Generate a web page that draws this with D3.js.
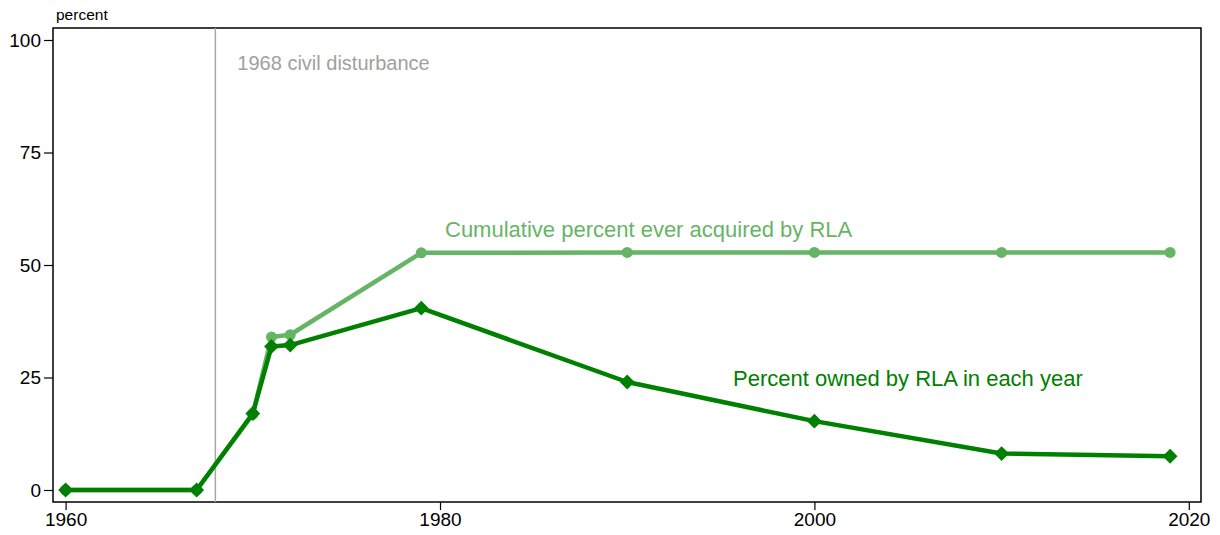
<!DOCTYPE html>
<html><head><meta charset="utf-8">
<script src="https://cdn.jsdelivr.net/npm/d3@7"></script>
<style>
body{margin:0;background:#fff;}
text{font-family:"Liberation Sans",Arial,Helvetica,sans-serif;}
</style></head>
<body><svg id="c" width="1220" height="535"></svg>
<script>
const years = [1960, 1967, 1970, 1971, 1972, 1979, 1990, 2000, 2010, 2019];
const ownedPct = [0, 0, 17.0, 31.9, 32.2, 40.4, 24.0, 15.3, 8.1, 7.5];
const cumulativePct = [0, 0, 16.8, 34.0, 34.5, 52.7, 52.8, 52.8, 52.8, 52.8];
const xTicks = [1960, 1980, 2000, 2020];
const yTicks = [0, 25, 50, 75, 100];
const eventYear = 1968;
const eventLabel = "1968 civil disturbance";
const cumLabel = "Cumulative percent ever acquired by RLA";
const ownLabel = "Percent owned by RLA in each year";

const svg = d3.select("#c");
const L = 53, R = 1201, T = 28, B = 502;
const x = d3.scaleLinear().domain([1960, 2020]).range([65.6, 1188.8]);
const y = d3.scaleLinear().domain([0, 100]).range([490, 40]);
const dark = "#008000", light = "#66b566";

// frame
svg.append("rect").attr("x", L).attr("y", T).attr("width", R - L).attr("height", B - T)
  .attr("fill", "none").attr("stroke", "#000").attr("stroke-width", 1.5);

// axes
const xa = svg.append("g").attr("transform", `translate(0,${B})`)
  .call(d3.axisBottom(x).tickValues(xTicks).tickFormat(d3.format("d")).tickSize(8).tickPadding(3));
const ya = svg.append("g").attr("transform", `translate(${L},0)`)
  .call(d3.axisLeft(y).tickValues(yTicks).tickSize(9).tickPadding(3));
[xa, ya].forEach(a => {
  a.select(".domain").remove();
  a.selectAll(".tick line").attr("stroke", "#000").attr("stroke-width", 1.2);
  a.selectAll(".tick text").attr("font-size", 19).attr("fill", "#000")
    .attr("font-family", '"Liberation Sans",Arial,sans-serif');
});
svg.append("text").attr("x", 56).attr("y", 20).attr("font-size", 15.5).text("percent");

// event line
svg.append("line").attr("x1", x(eventYear)).attr("x2", x(eventYear)).attr("y1", T).attr("y2", B)
  .attr("stroke", "#a8a8a8").attr("stroke-width", 1.5);
svg.append("text").attr("x", x(eventYear) + 22).attr("y", 70).attr("font-size", 20)
  .attr("fill", "#a0a0a0").text(eventLabel);

const line = d3.line().x(d => x(d[0])).y(d => y(d[1]));
const cum = years.map((yr, i) => [yr, cumulativePct[i]]);
const own = years.map((yr, i) => [yr, ownedPct[i]]);

svg.append("path").datum(cum).attr("d", line).attr("fill", "none")
  .attr("stroke", light).attr("stroke-width", 4.5).attr("stroke-linejoin", "round");
svg.selectAll(".cdot").data(cum).enter().append("circle")
  .attr("cx", d => x(d[0])).attr("cy", d => y(d[1])).attr("r", 5.5).attr("fill", light);

svg.append("path").datum(own).attr("d", line).attr("fill", "none")
  .attr("stroke", dark).attr("stroke-width", 4.5).attr("stroke-linejoin", "round");
svg.selectAll(".odot").data(own).enter().append("path")
  .attr("d", d3.symbol().type(d3.symbolSquare).size(110))
  .attr("transform", d => `translate(${x(d[0])},${y(d[1])}) rotate(45)`).attr("fill", dark);

svg.append("text").attr("x", 445).attr("y", 237).attr("font-size", 22).attr("fill", light).text(cumLabel);
svg.append("text").attr("x", 733).attr("y", 386).attr("font-size", 22).attr("fill", dark).text(ownLabel);
</script></body></html>
